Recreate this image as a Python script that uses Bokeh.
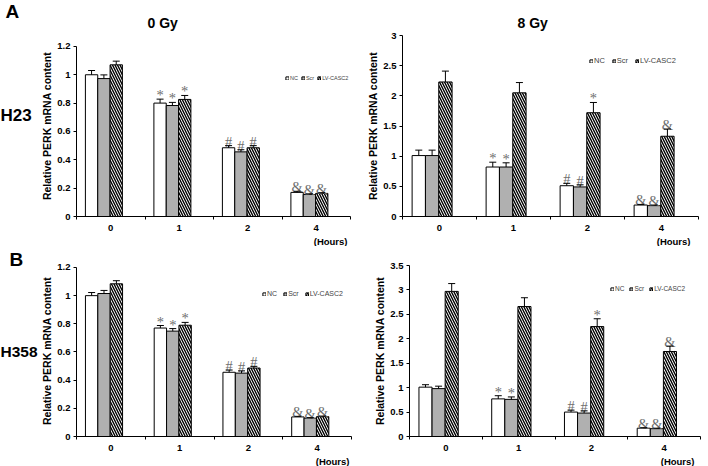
from bokeh.plotting import figure
from bokeh.models import (FixedTicker, Legend, LegendItem, Whisker, Title,
                          ColumnDataSource, TeeHead, Range1d)
from bokeh.layouts import column, row
from bokeh.embed import file_html
from bokeh.resources import INLINE
from bokeh.core.properties import value

# ---------------- data ----------------
hours = ["0", "1", "2", "4"]
series = ["NC", "Scr", "LV-CASC2"]

# H23, 0 Gy
h23_0_nc = [1.00, 0.80, 0.485, 0.17]
h23_0_nc_err = [0.03, 0.028, 0.015, 0.008]
h23_0_scr = [0.973, 0.783, 0.456, 0.155]
h23_0_scr_err = [0.026, 0.022, 0.015, 0.005]
h23_0_lv = [1.07, 0.826, 0.485, 0.163]
h23_0_lv_err = [0.026, 0.028, 0.015, 0.005]
h23_0_sig_nc = ["", "*", "#", "&"]
h23_0_sig_scr = ["", "*", "#", "&"]
h23_0_sig_lv = ["", "*", "#", "&"]

# H23, 8 Gy
h23_8_nc = [1.01, 0.82, 0.51, 0.19]
h23_8_nc_err = [0.09, 0.08, 0.04, 0.01]
h23_8_scr = [1.01, 0.82, 0.49, 0.18]
h23_8_scr_err = [0.09, 0.07, 0.035, 0.01]
h23_8_lv = [2.23, 2.05, 1.72, 1.33]
h23_8_lv_err = [0.18, 0.17, 0.17, 0.12]
h23_8_sig_nc = ["", "*", "#", "&"]
h23_8_sig_scr = ["", "*", "#", "&"]
h23_8_sig_lv = ["", "", "*", "&"]

# H358, 0 Gy
h358_0_nc = [1.00, 0.77, 0.456, 0.139]
h358_0_nc_err = [0.022, 0.018, 0.016, 0.004]
h358_0_scr = [1.015, 0.748, 0.45, 0.13]
h358_0_scr_err = [0.022, 0.018, 0.016, 0.004]
h358_0_lv = [1.084, 0.79, 0.486, 0.141]
h358_0_lv_err = [0.022, 0.02, 0.012, 0.004]
h358_0_sig_nc = ["", "*", "#", "&"]
h358_0_sig_scr = ["", "*", "#", "&"]
h358_0_sig_lv = ["", "*", "#", "&"]

# H358, 8 Gy
h358_8_nc = [1.01, 0.77, 0.50, 0.17]
h358_8_nc_err = [0.05, 0.065, 0.04, 0.01]
h358_8_scr = [0.98, 0.76, 0.48, 0.16]
h358_8_scr_err = [0.05, 0.05, 0.045, 0.01]
h358_8_lv = [2.97, 2.66, 2.25, 1.74]
h358_8_lv_err = [0.16, 0.18, 0.16, 0.11]
h358_8_sig_nc = ["", "*", "#", "&"]
h358_8_sig_scr = ["", "*", "#", "&"]
h358_8_sig_lv = ["", "", "*", "&"]

yticks_12 = [0, 0.2, 0.4, 0.6, 0.8, 1.0, 1.2]
ylabels_12 = ["0", "0.2", "0.4", "0.6", "0.8", "1", "1.2"]
yticks_30 = [0, 0.5, 1.0, 1.5, 2.0, 2.5, 3.0]
ylabels_30 = ["0", "0.5", "1", "1.5", "2", "2.5", "3"]
yticks_35 = [0, 0.5, 1.0, 1.5, 2.0, 2.5, 3.0, 3.5]
ylabels_35 = ["0", "0.5", "1", "1.5", "2", "2.5", "3", "3.5"]

panel_letters = ["A", "B"]
cell_lines = ["H23", "H358"]
doses = ["0 Gy", "8 Gy"]
x_unit = "(Hours)"

# ---------------- style ----------------
FONT = "Liberation Sans"
SERIF = "Liberation Serif"
BAR_W = 0.18
OFFSETS = [-0.28, -0.10, 0.08]
FILLS = ["white", "#b0b0b0", "white"]
HATCHES = [None, None, "\\"]
YLABEL = "Relative PERK mRNA content"


def panel(vals, errs, sigs, yticks, ylabels, ymax, yview, W, H, bl, br, bt, bb,
          leg_xy, leg_font, leg_spacing, title, title_offset, hours_offset):
    p = figure(width=W, height=H, x_range=Range1d(-0.5, len(hours) - 0.5),
               y_range=Range1d(0, yview), output_backend="svg",
               toolbar_location=None, min_border_left=bl, min_border_right=br,
               min_border_top=bt, min_border_bottom=bb)
    p.outline_line_color = None
    p.xgrid.visible = False
    p.ygrid.visible = False

    rends = []
    for k in range(3):
        xs = [i + OFFSETS[k] for i in range(len(hours))]
        up = [v + e for v, e in zip(vals[k], errs[k])]
        src = ColumnDataSource(dict(x=xs, top=vals[k], up=up, sig=sigs[k]))
        r = p.vbar(x="x", top="top", width=BAR_W, source=src,
                   fill_color=FILLS[k], line_color="black", line_width=1,
                   hatch_pattern=HATCHES[k], hatch_color="black",
                   hatch_scale=5, hatch_weight=1.4)
        rends.append(r)
        w = Whisker(base="x", lower="top", upper="up", source=src,
                    dimension="height", line_color="black", line_width=1,
                    upper_head=TeeHead(size=7, line_color="black", line_width=1),
                    lower_head=None, level="overlay")
        p.add_layout(w)
        p.text(x="x", y="up", text="sig", source=src, text_align="center",
               text_baseline="alphabetic", y_offset=-4,
               text_font=value(SERIF), text_font_size="14.5px",
               text_color="#6e6e6e")

    xa = p.xaxis[0]
    xa.ticker = FixedTicker(ticks=list(range(len(hours))),
                            minor_ticks=[i - 0.5 for i in range(len(hours) + 1)])
    xa.major_label_overrides = {i: h for i, h in enumerate(hours)}
    xa.major_tick_line_color = None
    xa.major_tick_out = 0
    xa.major_tick_in = 0
    xa.minor_tick_out = 3
    xa.minor_tick_in = 0
    xa.minor_tick_line_color = "black"
    xa.major_label_standoff = 5
    xa.major_label_text_font = FONT
    xa.major_label_text_font_style = "bold"
    xa.major_label_text_font_size = "9.5px"
    xa.major_label_text_color = "black"
    xa.axis_line_color = "black"

    ya = p.yaxis[0]
    ya.bounds = (0, ymax)
    ya.ticker = FixedTicker(ticks=yticks)
    ya.major_label_overrides = {t: l for t, l in zip(yticks, ylabels)}
    ya.major_tick_out = 3
    ya.major_tick_in = 0
    ya.minor_tick_line_color = None
    ya.major_label_standoff = 3
    ya.major_label_text_font = FONT
    ya.major_label_text_font_style = "bold"
    ya.major_label_text_font_size = "9.5px"
    ya.major_label_text_color = "black"
    ya.axis_label = YLABEL
    ya.axis_label_text_font = FONT
    ya.axis_label_text_font_style = "bold"
    ya.axis_label_text_font_size = "10.5px"
    ya.axis_label_text_color = "black"
    ya.axis_label_standoff = 1

    legend = Legend(items=[LegendItem(label=s, renderers=[r]) for s, r in zip(series, rends)],
                    location=leg_xy, orientation="horizontal", glyph_width=4,
                    glyph_height=4, label_text_font_size=leg_font,
                    label_text_font=FONT, label_standoff=1, spacing=leg_spacing,
                    padding=0, margin=0, border_line_color=None,
                    background_fill_alpha=0, label_height=6, label_width=4)
    p.add_layout(legend)

    if title:
        p.title.text = title
        p.title.align = "left"
        p.title.offset = title_offset
        p.title.standoff = 10
        p.title.text_font = FONT
        p.title.text_font_style = "bold"
        p.title.text_font_size = "14px"
        p.title.text_color = "black"

    p.add_layout(Title(text=x_unit, align="right", offset=hours_offset,
                       standoff=0, text_font=FONT, text_font_style="bold",
                       text_font_size="9.5px", text_color="black"), "below")
    return p


# left strip with panel letters and cell-line names
strip = figure(width=38, height=466, x_range=Range1d(0, 38), y_range=Range1d(466, 0),
               output_backend="svg", toolbar_location=None, min_border=0,
               x_axis_location=None, y_axis_location=None)
strip.outline_line_color = None
strip.xgrid.visible = False
strip.ygrid.visible = False
strip.text(x=[5, 9], y=[11, 259], text=panel_letters, text_font=value(FONT),
           text_font_style="bold", text_font_size="19px", text_baseline="middle",
           text_align="left", text_color="black")
strip.text(x=[0], y=[115], text=[cell_lines[0]], text_font=value(FONT),
           text_font_style="bold", text_font_size="17px", text_baseline="middle",
           text_align="left", text_color="black")
strip.text(x=[0], y=[351], text=[cell_lines[1]], text_font=value(FONT),
           text_font_style="bold", text_font_size="15.5px", text_baseline="middle",
           text_align="left", text_color="black")

# top row: frames span page y 35..218 ; bottom row: 265..438
p1 = panel([h23_0_nc, h23_0_scr, h23_0_lv], [h23_0_nc_err, h23_0_scr_err, h23_0_lv_err],
           [h23_0_sig_nc, h23_0_sig_scr, h23_0_sig_lv], yticks_12, ylabels_12, 1.2, 1.277,
           316, 246, 33, 4, 35, 28, (209, 135), "5.5px", 3, doses[0], 71, 3)
p2 = panel([h23_8_nc, h23_8_scr, h23_8_lv], [h23_8_nc_err, h23_8_scr_err, h23_8_lv_err],
           [h23_8_sig_nc, h23_8_sig_scr, h23_8_sig_lv], yticks_30, ylabels_30, 3.0, 3.0,
           354, 246, 48, 10, 35, 28, (187, 151), "7.5px", 7, doses[1], 115, 8)
p3 = panel([h358_0_nc, h358_0_scr, h358_0_lv], [h358_0_nc_err, h358_0_scr_err, h358_0_lv_err],
           [h358_0_sig_nc, h358_0_sig_scr, h358_0_sig_lv], yticks_12, ylabels_12, 1.2, 1.214,
           316, 220, 33, 3, 19, 28, (186, 139), "7px", 6, None, 0, 2)
p4 = panel([h358_8_nc, h358_8_scr, h358_8_lv], [h358_8_nc_err, h358_8_scr_err, h358_8_lv_err],
           [h358_8_sig_nc, h358_8_sig_scr, h358_8_sig_lv], yticks_35, ylabels_35, 3.5, 3.5,
           354, 220, 55, 8, 19, 28, (201, 144), "6.5px", 5, None, 0, 6)

layout = row(strip, column(row(p1, p2, spacing=0), row(p3, p4, spacing=0), spacing=0),
             spacing=0)
open("out.html", "w").write(file_html(layout, INLINE))
